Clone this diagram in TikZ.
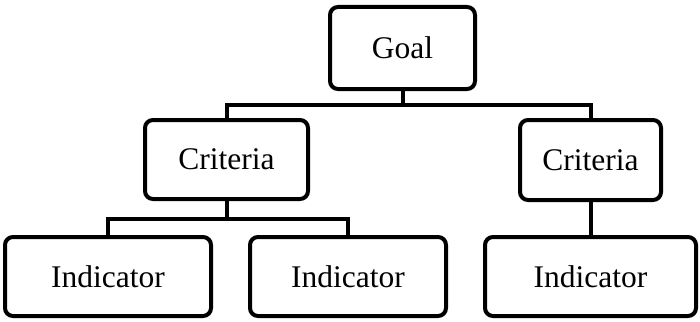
\documentclass[tikz,border=0pt]{standalone}
\usepackage{fontspec}
\setmainfont{Liberation Serif}
\begin{document}
\begin{tikzpicture}[x=1pt,y=-1pt,
  box/.style={draw, line width=4pt, rounded corners=8pt, inner sep=0pt,
    font=\fontsize{31.5}{36}\selectfont},
  link/.style={line width=4pt}]
\useasboundingbox (0,0) rectangle (700,321);
\node[box, minimum width=145pt, minimum height=82pt] (goal) at (402.5,48) {Goal};
\node[box, minimum width=163pt, minimum height=79pt] (crit1) at (226.5,159.5) {Criteria};
\node[box, minimum width=141pt, minimum height=80pt] (crit2) at (590.5,160) {Criteria};
\node[box, minimum width=206pt, minimum height=79pt] (ind1) at (108,276.5) {Indicator};
\node[box, minimum width=196pt, minimum height=79pt] (ind2) at (348,276.5) {Indicator};
\node[box, minimum width=211pt, minimum height=79pt] (ind3) at (590.5,276.5) {Indicator};
\coordinate (j1) at (403,105);
\coordinate (j2) at (226.5,219);
\draw[link] (goal.south -| j1) -- (j1);
\draw[link] (crit1.north) |- (j1) -| (crit2.north);
\draw[link] (crit1.south) -- (j2);
\draw[link] (ind1.north) |- (j2) -| (ind2.north);
\draw[link] (crit2.south) -- (ind3.north);
\end{tikzpicture}
\end{document}
